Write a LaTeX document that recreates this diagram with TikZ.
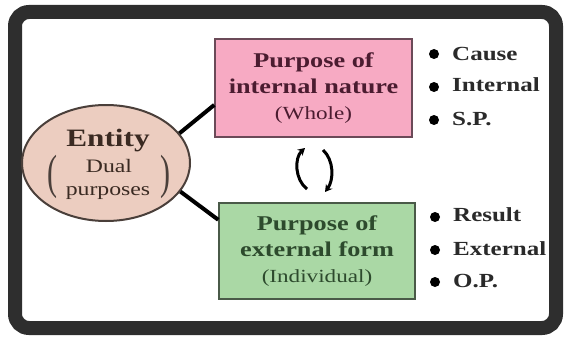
\documentclass[tikz,border=0pt]{standalone}
\usepackage{fontspec}
\setmainfont{Liberation Serif}[FakeStretch=1.25]
\usetikzlibrary{arrows.meta,shapes.geometric,calc}
\definecolor{framec}{HTML}{2E2E2E}
\definecolor{pinkfill}{HTML}{F7AAC3}
\definecolor{pinkdraw}{HTML}{6B4A58}
\definecolor{pinktext}{HTML}{4B1C30}
\definecolor{greenfill}{HTML}{AAD8A5}
\definecolor{greendraw}{HTML}{4A5A48}
\definecolor{greentext}{HTML}{2D4A2D}
\definecolor{entfill}{HTML}{ECCDC0}
\definecolor{entdraw}{HTML}{4A3F3A}
\definecolor{enttext}{HTML}{3A2A22}
\definecolor{bultext}{HTML}{2A2A2A}
\begin{document}
\begin{tikzpicture}[x=1pt,y=-1pt,
  purposebox/.style={rectangle, line width=1.5pt, inner sep=0pt, align=center,
     font=\fontsize{21}{26}\selectfont\bfseries},
  link/.style={line width=4pt, black},
  swaparrow/.style={line width=3pt, black, -{Stealth[length=7pt,width=8pt]}},
  bulletdot/.style={circle, fill=black, minimum size=10pt, inner sep=0pt},
  bullettext/.style={anchor=base west, inner sep=0pt, text=bultext,
     font=\fontsize{20}{24}\selectfont\bfseries},
  paren/.style={inner sep=0pt, text=entdraw, font=\fontsize{48}{48}\selectfont, xscale=0.5}
]
\useasboundingbox (0,0) rectangle (567,337);
% outer frame
\draw[line width=14pt, rounded corners=14pt, draw=framec, fill=white] (15,12) rectangle (556,328);

% entity ellipse
\node[ellipse, draw=entdraw, line width=2pt, fill=entfill, minimum width=168pt,
      minimum height=116pt, inner sep=0pt] (ent) at (106,163) {};
\node[anchor=base, inner sep=0pt, text=enttext, font=\fontsize{25}{25}\selectfont\bfseries]
      (entl) at (108,146) {Entity};
\node[anchor=base, inner sep=0pt, text=enttext, font=\fontsize{19}{19}\selectfont]
      (duall) at (109,172) {Dual};
\node[anchor=base, inner sep=0pt, text=enttext, font=\fontsize{19}{19}\selectfont]
      (purpl) at (108,195) {purposes};
\node[paren] (lp) at (52,177) {(};
\node[paren] (rp) at (165,177) {)};

% boxes
\node[purposebox, draw=pinkdraw, fill=pinkfill, text=pinktext,
      minimum width=197pt, minimum height=98pt] (pink) at (313.5,88)
      {Purpose of\\internal nature\\{\mdseries\fontsize{18.5}{26}\selectfont(Whole)}};
\node[purposebox, draw=greendraw, fill=greenfill, text=greentext,
      minimum width=196pt, minimum height=96pt] (green) at (317,251)
      {Purpose of\\external form\\{\mdseries\fontsize{18.5}{26}\selectfont(Individual)}};

% links
\draw[link] (ent.22) -- ($(pink.north west)!0.67!(pink.south west)$);
\draw[link] (ent.-21) -- ($(green.north west)!0.18!(green.south west)$);

% swap arrows
\coordinate (la1) at (307,189);
\coordinate (la2) at (305,148);
\coordinate (ra1) at (323,150);
\coordinate (ra2) at (325,192);
\draw[swaparrow] (la1) .. controls (295,180) and (294,158) .. (la2);
\draw[swaparrow] (ra1) .. controls (334,160) and (334,180) .. (ra2);

% bullets upper
\node[bulletdot] (b1) at (434,54) {};
\node[bullettext] (t1) at (452,60) {Cause};
\node[bulletdot] (b2) at (434,87) {};
\node[bullettext] (t2) at (452,92) {Internal};
\node[bulletdot] (b3) at (434,120) {};
\node[bullettext] (t3) at (452,125) {S.P.};
% bullets lower
\node[bulletdot] (b4) at (435,217) {};
\node[bullettext] (t4) at (453,221) {Result};
\node[bulletdot] (b5) at (435,250) {};
\node[bullettext] (t5) at (453,255) {External};
\node[bulletdot] (b6) at (435,282) {};
\node[bullettext] (t6) at (453,287) {O.P.};
\end{tikzpicture}
\end{document}
